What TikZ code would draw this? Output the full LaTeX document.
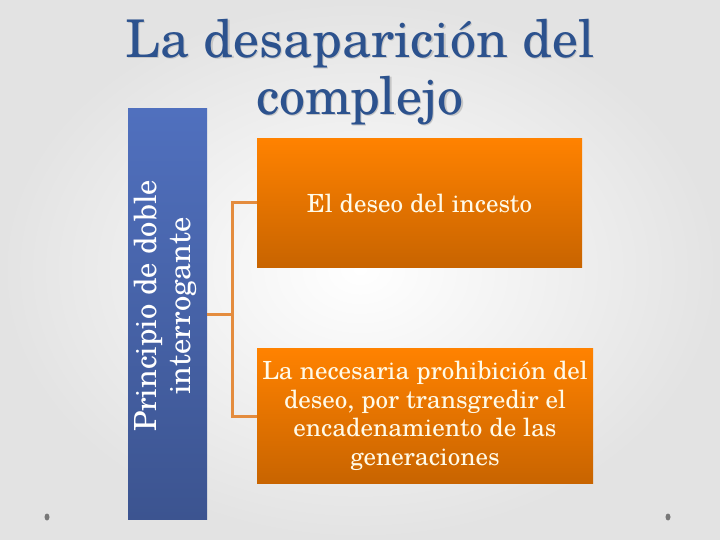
\documentclass[tikz,border=0pt]{standalone}
\usepackage{fontspec}
\setmainfont{texgyreschola-regular.otf}
\usetikzlibrary{positioning}
\definecolor{titleblue}{RGB}{44,82,142}
\definecolor{boxblueA}{RGB}{80,112,190}
\definecolor{boxblueB}{RGB}{60,84,144}
\definecolor{boxorangeA}{RGB}{255,130,0}
\definecolor{boxorangeB}{RGB}{200,100,0}
\definecolor{linkorange}{RGB}{228,140,62}
\definecolor{textcream}{RGB}{255,250,232}
\definecolor{dotgray}{RGB}{120,120,120}
\begin{document}
\begin{tikzpicture}[x=1pt, y=-1pt,
    title/.style={align=center, text=titleblue, font=\fontsize{52}{57}\selectfont},
    shadowtext/.style={align=center, text=gray!45, font=\fontsize{52}{57}\selectfont},
    bluebox/.style={rectangle, top color=boxblueA, bottom color=boxblueB, inner sep=0pt},
    bluetext/.style={rotate=90, align=center, text=white, font=\fontsize{30.5}{34}\selectfont},
    orangebox/.style={rectangle, top color=boxorangeA, bottom color=boxorangeB, align=center, text=textcream, inner sep=0pt},
    link/.style={draw=linkorange, line width=3pt}]
    \useasboundingbox (0,0) rectangle (720,540);
    \shade[inner color=white, outer color=gray!22] (0,0) rectangle (720,540);

    \node (shadow) [shadowtext] at (361.5,73.5) {La desaparición del\\complejo};
    \node (title) [title] at (360,72) {La desaparición del\\complejo};

    \node (principio) [bluebox, minimum width=79, minimum height=410] at (167.5,314) {};
    \node (principiotext) [bluetext] at (165,306) {Principio de doble\\interrogante};

    \node (deseo) [orangebox, minimum width=325, minimum height=129, font=\fontsize{25}{28}\selectfont] at (419.5,203) {El deseo del incesto};
    \node (prohibicion) [orangebox, minimum width=336, minimum height=135, font=\fontsize{25}{28.5}\selectfont] at (425,416) {La necesaria prohibición del\\deseo, por transgredir el\\encadenamiento de las\\generaciones};

    \coordinate (fork) at (232,314);
    \draw[link] (principio.east) -- (fork);
    \draw[link] (fork) |- (deseo.west);
    \draw[link] (fork) |- (prohibicion.west);

    \fill[dotgray] (47,517) ellipse (2.5 and 3.5);
    \fill[dotgray] (668,517) ellipse (2.5 and 3.5);
\end{tikzpicture}
\end{document}
